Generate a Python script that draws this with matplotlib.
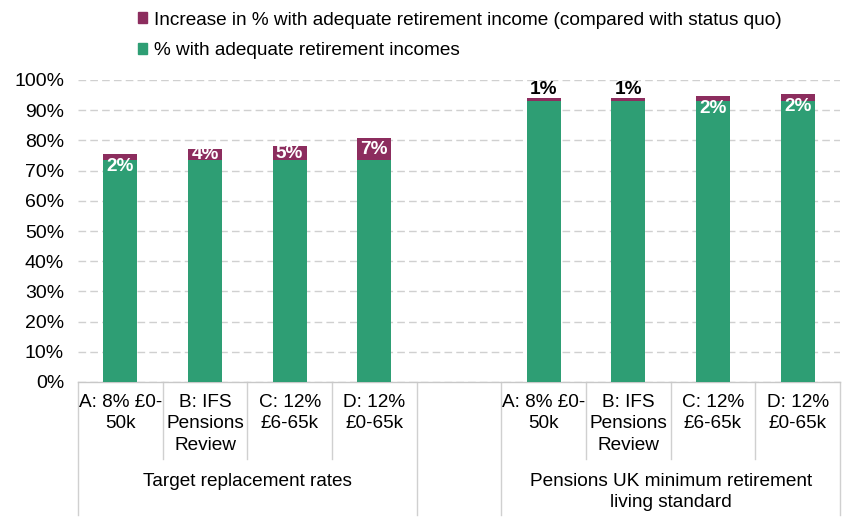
import matplotlib
matplotlib.use('Agg')
import matplotlib.pyplot as plt
from matplotlib.patches import Patch

plt.rcParams['font.family'] = ['Liberation Sans', 'DejaVu Sans']

# ---- data ----
scenarios = ['A: 8% £0-\n50k', 'B: IFS\nPensions\nReview', 'C: 12%\n£6-65k', 'D: 12%\n£0-65k']
groups = ['Target replacement rates', 'Pensions UK minimum retirement\nliving standard']
base_trr = [73.5, 73.5, 73.5, 73.5]
inc_trr = [2.0, 3.7, 4.6, 7.3]
base_puk = [93.1, 93.1, 93.1, 93.1]
inc_puk = [0.8, 1.1, 1.7, 2.3]
labels_trr = ['2%', '4%', '5%', '7%']
labels_puk = ['1%', '1%', '2%', '2%']
yticks = [0, 10, 20, 30, 40, 50, 60, 70, 80, 90, 100]
legend_inc = 'Increase in % with adequate retirement income (compared with status quo)'
legend_base = '% with adequate retirement incomes'

GREEN = '#2E9E74'
PURPLE = '#8C2D5E'
FS = 13.7

fig = plt.figure(figsize=(8.48, 5.23), dpi=100)
W, H = 848, 523
ax = fig.add_axes([78 / W, 1 - 382 / H, (840 - 78) / W, (382 - 80) / H])

pos_trr = [0, 1, 2, 3]
pos_puk = [5, 6, 7, 8]
bw = 0.4

for pos, base, inc, labs in [(pos_trr, base_trr, inc_trr, labels_trr),
                             (pos_puk, base_puk, inc_puk, labels_puk)]:
    ax.bar(pos, base, width=bw, color=GREEN, zorder=3)
    ax.bar(pos, inc, bottom=base, width=bw, color=PURPLE, zorder=3)
    for x, b, i, t in zip(pos, base, inc, labs):
        top = b + i
        if i >= 3:
            ax.text(x, b + i / 2, t, ha='center', va='center', color='white',
                    fontsize=FS, fontweight='bold', zorder=4)
        elif i >= 1.5:
            ax.annotate(t, (x, top), xytext=(0, -3), textcoords='offset points',
                        ha='center', va='top', color='white', fontsize=FS,
                        fontweight='bold', zorder=4)
        else:
            ax.annotate(t, (x, top), xytext=(0, 0), textcoords='offset points',
                        ha='center', va='bottom', color='black', fontsize=FS,
                        fontweight='bold', zorder=4)

ax.set_xlim(-0.5, 8.5)
ax.set_ylim(0, 100)
ax.set_yticks(yticks)
ax.set_yticklabels([f'{v}%' for v in yticks], fontsize=14, color='#000000')
ax.tick_params(axis='y', length=0, pad=10)
ax.set_xticks([])
ax.grid(axis='y', color='#D0D0D0', linewidth=1, linestyle=(0, (5.5, 3)), zorder=0)
for s in ['top', 'right', 'left']:
    ax.spines[s].set_visible(False)
ax.spines['bottom'].set_color('#C8C8C8')
ax.spines['bottom'].set_linewidth(1)

trans = ax.get_xaxis_transform()
ah = 382 - 80
inner_bottom = -(459 - 382) / ah
full_bottom = -(515 - 382) / ah
for x in [-0.5, 3.5, 4.5, 8.5]:
    ax.plot([x, x], [0, full_bottom], transform=trans, color='#D0D0D0', lw=1, clip_on=False)
for x in [0.5, 1.5, 2.5, 5.5, 6.5, 7.5]:
    ax.plot([x, x], [0, inner_bottom], transform=trans, color='#D0D0D0', lw=1, clip_on=False)

cat_y = -(394 - 382) / ah
for pos in [pos_trr, pos_puk]:
    for x, lab in zip(pos, scenarios):
        ax.text(x, cat_y, lab, transform=trans, ha='center', va='top', fontsize=FS,
                linespacing=1.33, color='#000000')
grp_y = -(473 - 382) / ah
for x, lab in zip([1.5, 6.5], groups):
    ax.text(x, grp_y, lab, transform=trans, ha='center', va='top', fontsize=FS,
            linespacing=1.28, color='#000000')

handles = [Patch(color=PURPLE, label=legend_inc), Patch(color=GREEN, label=legend_base)]
fig.legend(handles=handles, loc='upper left', bbox_to_anchor=(130 / W, 1 - 4 / H),
           frameon=False, fontsize=FS, handlelength=0.5, handleheight=0.5,
           handletextpad=0.35, labelspacing=0.72, borderaxespad=0)

fig.savefig('out.png', dpi=100)
